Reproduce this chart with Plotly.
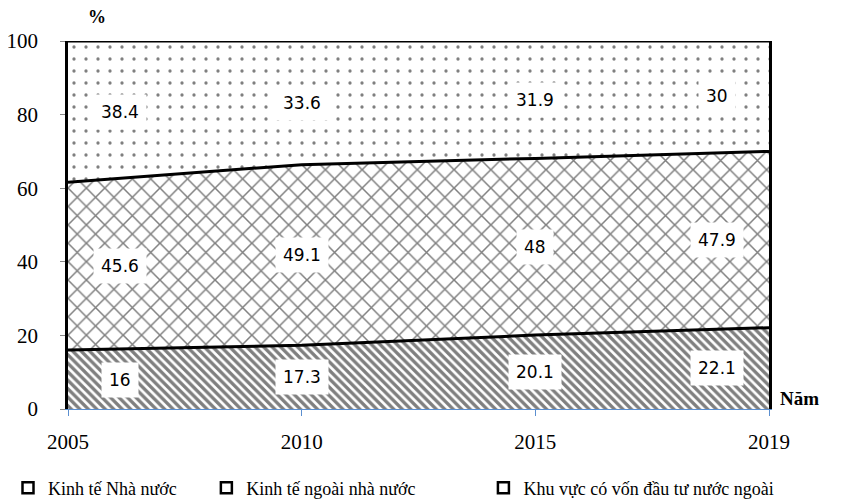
import plotly.graph_objects as go

years = ["2005", "2010", "2015", "2019"]
fdi = [16, 17.3, 20.1, 22.1]            # Khu vực có vốn đầu tư nước ngoài
non_state = [45.6, 49.1, 48, 47.9]      # Kinh tế ngoài nhà nước
state = [38.4, 33.6, 31.9, 30]          # Kinh tế Nhà nước
names = ["Khu vực có vốn đầu tư nước ngoài", "Kinh tế ngoài nhà nước", "Kinh tế Nhà nước"]
yticks = [0, 20, 40, 60, 80, 100]

serif = "Liberation Serif, Times New Roman, serif"
series = [fdi, non_state, state]
patterns = [
    dict(shape="\\", size=6, solidity=0.55, fgcolor="black", bgcolor="white"),
    dict(shape="x", size=13, solidity=0.22, fgcolor="black", bgcolor="white"),
    dict(shape=".", size=12, solidity=0.06, fgcolor="black", bgcolor="white"),
]

fig = go.Figure()
for vals, nm, pat in zip(series, names, patterns):
    fig.add_trace(go.Scatter(
        x=years, y=vals, name=nm, mode="lines", stackgroup="one",
        line=dict(color="black", width=3),
        fillcolor="white", fillpattern=pat, showlegend=False,
    ))

# legend entries (square symbols), each in its own legend box, reference order
legend_ids = ["legend", "legend2", "legend3"]
for nm, lg in zip(reversed(names), legend_ids):
    fig.add_trace(go.Scatter(
        x=[None], y=[None], name=nm, mode="markers", legend=lg,
        marker=dict(symbol="square", size=11, color="white",
                    line=dict(color="black", width=2.5)),
    ))

# data labels
shifts = [52, 0, 0, -52]
cum = [0] * len(years)
for vals in series:
    for j, v in enumerate(vals):
        fig.add_annotation(
            x=j, y=cum[j] + v / 2, text=f"{v:g}", showarrow=False,
            xshift=shifts[j], bgcolor="white", borderpad=7,
            font=dict(family="DejaVu Sans, Verdana, sans-serif", size=17, color="black"),
        )
        cum[j] += v

fig.add_annotation(xref="paper", yref="paper", x=0.041, y=1.0, yshift=12,
                   xanchor="center", yanchor="bottom", text="<b>%</b>", showarrow=False,
                   font=dict(family=serif, size=18, color="black"))
fig.add_annotation(xref="paper", yref="paper", x=1.0, y=0.0, xshift=9, yshift=-2,
                   xanchor="left", yanchor="bottom", text="<b>Năm</b>", showarrow=False,
                   font=dict(family=serif, size=19, color="black"))

leg_common = dict(orientation="h", xref="container", yref="container",
                  xanchor="left", y=0.032, yanchor="middle",
                  font=dict(family=serif, size=18, color="black"),
                  itemwidth=30, bgcolor="rgba(0,0,0,0)")

fig.update_layout(
    width=837, height=496,
    margin=dict(l=60, r=76, t=33, b=95, autoexpand=False),
    paper_bgcolor="white", plot_bgcolor="white",
    showlegend=True,
    legend=dict(leg_common, x=0.0),
    legend2=dict(leg_common, x=0.237),
    legend3=dict(leg_common, x=0.568),
    xaxis=dict(type="category", range=[0, 3], showgrid=False, zeroline=False,
               automargin=False,
               showline=True, linecolor="#5b8fd0", linewidth=1,
               ticks="outside", tickcolor="#5b8fd0", ticklen=6,
               ticklabelstandoff=8,
               tickfont=dict(family=serif, size=21, color="black")),
    yaxis=dict(range=[0, 100], tickvals=yticks, showgrid=False, zeroline=False,
               automargin=False,
               showline=True, mirror=True, linecolor="black", linewidth=2.5,
               ticks="outside", tickcolor="#888888", ticklen=5,
               ticklabelstandoff=18,
               tickfont=dict(family=serif, size=21, color="black")),
)

fig.write_html("out.html")
